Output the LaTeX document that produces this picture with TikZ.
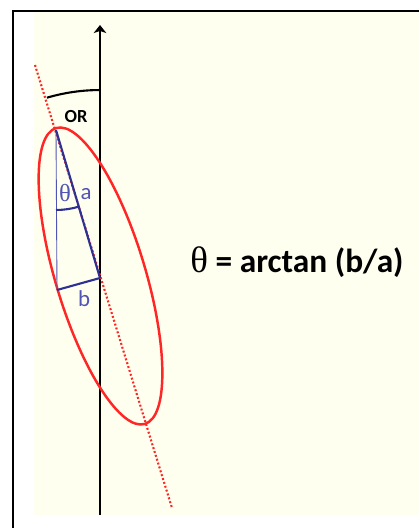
\documentclass[tikz,border=0pt]{standalone}
\usepackage{fontspec}
\setmainfont{Carlito}
\newfontfamily\greekfont{Liberation Serif}
\usetikzlibrary{arrows.meta,calc}
\definecolor{paper}{HTML}{FFFFF0}
\definecolor{ellred}{HTML}{FF2626}
\definecolor{triblue}{HTML}{2E3192}
\definecolor{labblue}{HTML}{5054B4}

\begin{document}
\begin{tikzpicture}[x=0.02cm, y=-0.02cm, >=Stealth,
 frame/.style={line width=1.7pt},
 axisline/.style={line width=1.1pt, -{Stealth[length=0.16cm, width=0.25cm, inset=0.04cm]}},
 ell/.style={draw=ellred, line width=1.4pt},
 dotline/.style={draw=ellred, line width=1.2pt, dash pattern=on 1.1pt off 1.2pt},
 side/.style={draw=triblue, line width=1.2pt},
 thinside/.style={draw=labblue, line width=0.5pt},
 lab/.style={text=labblue, font=\fontsize{13}{15}\selectfont, inner sep=1pt}]
\useasboundingbox (0,0) rectangle (419,528);
\fill[paper] (34,12) rectangle (419,515);
\draw[frame] (13,528) -- (13,11) -- (419,11);
% points of the construction
\coordinate (base) at (100,515);
\coordinate (tip) at (100,25);
\coordinate (dotA) at (35,65);
\coordinate (dotB) at (172,508);
\coordinate (top) at (56,130);
\coordinate (foot) at (57,290);
\coordinate (cross) at (100,278);
\coordinate (mid) at (100.5,276);
\draw[axisline] (base) -- (tip);
\draw[dotline] (dotA) -- (dotB);
\draw[ell, rotate around={16.7:(mid)}] (mid) ellipse [x radius=0.9cm, y radius=3.09cm];
% triangle a, b
\draw[thinside] (top) -- (foot);
\draw[side] (top) -- (cross);
\draw[side] (foot) -- (cross);
\draw[side] (top) ++(270:1.6cm) arc[start angle=270, end angle=286.6, radius=1.6cm];
\draw[line width=1.2pt] (cross) ++(90:3.76cm) arc[start angle=90, end angle=106.4, radius=3.76cm];
\node[lab, font=\greekfont\fontsize{14}{15}\selectfont] (thlab) at (65,193) {θ};
\node[lab] (alab) at (86,194) {a};
\node[lab] (blab) at (84,299) {b};
\node[font=\bfseries\fontsize{10.5}{12}\selectfont] (orlab) at (76,117) {OR};
\node[font=\bfseries\fontsize{19}{21}\selectfont] (eq) at (297,262) {{\mdseries\greekfont\fontsize{21}{21}\selectfont θ} = arctan (b/a)};
\end{tikzpicture}
\end{document}
